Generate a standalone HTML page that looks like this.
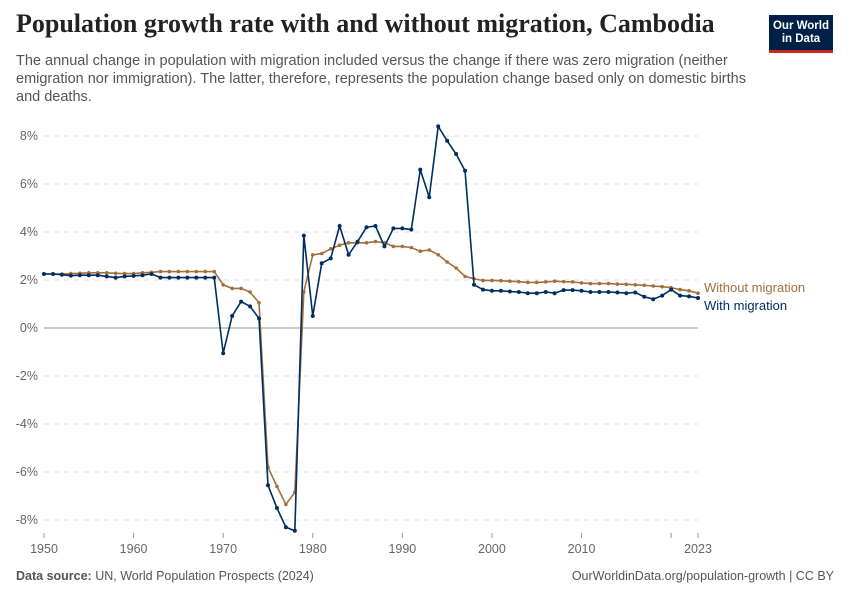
<!DOCTYPE html>
<html><head><meta charset="utf-8"><style>
body{margin:0;background:#fff;font-family:"Liberation Sans",sans-serif}
#wrap{position:relative;width:850px;height:600px;overflow:hidden}
h1{position:absolute;left:16px;top:9px;margin:0;font-family:"Liberation Serif",serif;font-size:26px;font-weight:bold;color:#222}
.sub{position:absolute;left:16px;top:52px;width:730px;font-size:14.5px;line-height:18px;color:#555}
.logo{position:absolute;left:769px;top:15px;width:64px;height:38px;background:#002147;border-bottom:3px solid #ce261e;color:#fff;font-size:11.5px;font-weight:bold;text-align:center;line-height:13px;padding-top:2px;box-sizing:border-box}
.foot{position:absolute;top:569px;font-size:12.5px;color:#555}
</style></head><body>
<div id="wrap">
<h1>Population growth rate with and without migration, Cambodia</h1>
<div class="sub">The annual change in population with migration included versus the change if there was zero migration (neither emigration nor immigration). The latter, therefore, represents the population change based only on domestic births and deaths.</div>
<div class="logo"><div style="padding-top:3px">Our World<br>in Data</div></div>
<svg id="chart" width="850" height="600" style="position:absolute;left:0;top:0"></svg>
<div class="foot" style="left:16px"><b>Data source:</b> UN, World Population Prospects (2024)</div>
<div class="foot" style="right:16px">OurWorldinData.org/population-growth | CC BY</div>
</div>
<script>
const years=[];for(let y=1950;y<=2023;y++)years.push(y);
const withMig=[2.25,2.25,2.22,2.18,2.2,2.2,2.2,2.15,2.1,2.15,2.17,2.2,2.25,2.1,2.1,2.1,2.1,2.1,2.1,2.1,
-1.05,0.5,1.1,0.9,0.4,-6.55,-7.5,-8.3,-8.45,3.85,0.5,2.7,2.9,4.25,3.05,3.6,4.2,4.25,3.4,4.15,4.15,4.1,6.6,5.45,8.4,7.8,7.25,6.55,1.8,1.6,
1.55,1.55,1.52,1.5,1.45,1.45,1.5,1.45,1.58,1.58,1.55,1.5,1.5,1.5,1.48,1.45,1.48,1.3,1.2,1.35,1.6,1.35,1.32,1.25];
const withoutMig=[2.25,2.25,2.25,2.27,2.28,2.3,2.3,2.3,2.28,2.27,2.27,2.3,2.32,2.35,2.35,2.35,2.35,2.35,2.35,2.35,
1.8,1.65,1.65,1.5,1.05,-5.8,-6.6,-7.35,-6.85,1.5,3.05,3.1,3.3,3.45,3.55,3.55,3.55,3.6,3.55,3.4,3.4,3.35,3.2,3.25,3.05,2.75,2.5,2.15,2.05,1.98,
1.98,1.97,1.95,1.93,1.9,1.9,1.92,1.95,1.93,1.92,1.88,1.85,1.85,1.85,1.83,1.82,1.8,1.78,1.75,1.72,1.68,1.6,1.55,1.45];
const yTicks=[-8,-6,-4,-2,0,2,4,6,8];
const xTicks=[1950,1960,1970,1980,1990,2000,2010,2020,2023];
const xTickLabels=["1950","1960","1970","1980","1990","2000","2010","","2023"];
const svg=document.getElementById('chart');const NS='http://www.w3.org/2000/svg';
const X=y=>44+(y-1950)*(698-44)/73, Y=v=>328-v*24;
function mk(t,a,p){const e=document.createElementNS(NS,t);for(const k in a)e.setAttribute(k,a[k]);(p||svg).appendChild(e);return e;}
yTicks.forEach(v=>{
 const l=mk('line',{x1:44,x2:698,y1:Y(v),y2:Y(v),stroke:v===0?'#999':'#ddd','stroke-dasharray':v===0?'':'5,5'});
 
 
 const t=mk('text',{x:38,y:Y(v)+4,'text-anchor':'end','font-size':12.5,fill:'#666','font-family':'Liberation Sans'});t.textContent=v+'%';
 
 
});
xTicks.forEach((yr,i)=>{
 const l=mk('line',{x1:X(yr),x2:X(yr),y1:533,y2:538,stroke:'#999'});
 
 
 const t=mk('text',{x:X(yr),y:553,'text-anchor':'middle','font-size':12.5,fill:'#666','font-family':'Liberation Sans'});t.textContent=xTickLabels[i];
 
 
});
function series(vals,color,name,r){
 const g=mk('g',{});
 
 
 mk('polyline',{points:vals.map((v,i)=>X(years[i])+','+Y(v)).join(' '),fill:'none',stroke:color,'stroke-width':1.6},g);
 vals.forEach((v,i)=>{const c=mk('circle',{cx:X(years[i]),cy:Y(v),r:r,fill:color},g);
 
 });
}
series(withoutMig,'#a2703d','without-migration-line',1.8);
series(withMig,'#002d62','with-migration-line',2);
const l1=mk('text',{x:704,y:292,'font-size':13,fill:'#a2703d','font-family':'Liberation Sans'});l1.textContent='Without migration';


const l2=mk('text',{x:704,y:310,'font-size':13,fill:'#002d62','font-family':'Liberation Sans'});l2.textContent='With migration';


</script>
</body></html>
